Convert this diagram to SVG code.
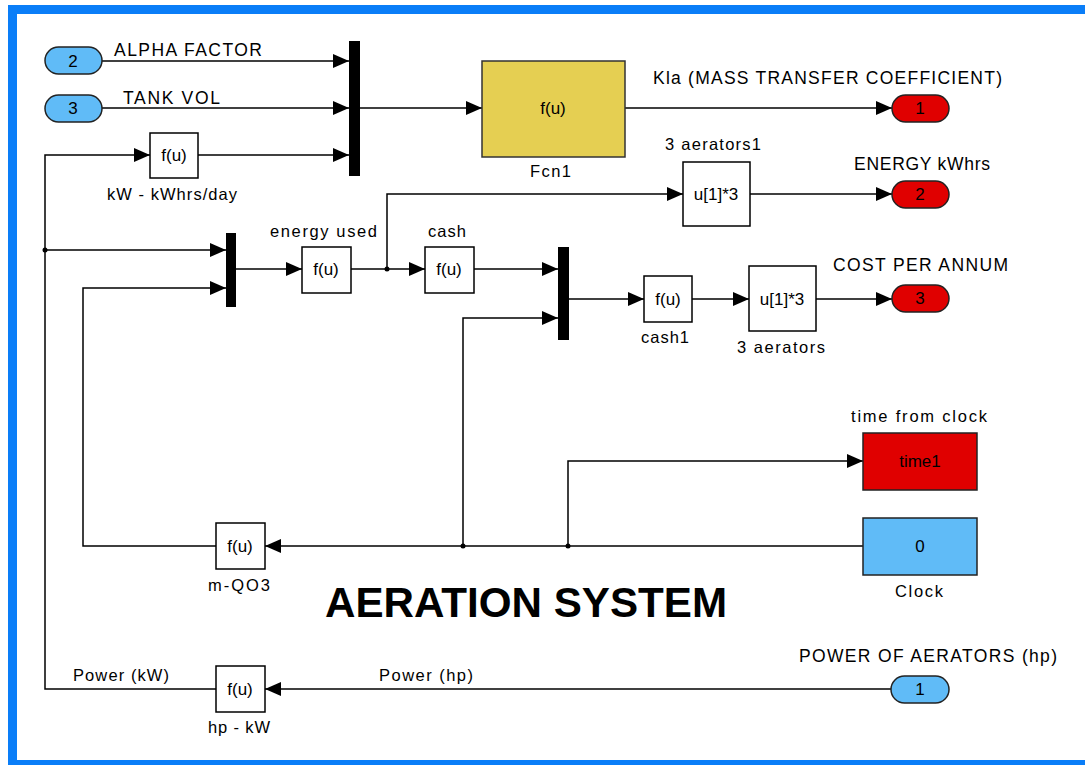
<svg xmlns="http://www.w3.org/2000/svg" width="1085" height="765" viewBox="0 0 1085 765">
<defs>
<marker id="arr" markerUnits="userSpaceOnUse" markerWidth="16" markerHeight="14" refX="16" refY="7" orient="auto">
<path d="M0,0 L16,7 L0,14 z" fill="#000"/>
</marker>
<style>
text{font-family:"Liberation Sans",Arial,sans-serif;fill:#000}
.lbl{font-size:17.5px}
.sm{font-size:16.5px}
.fu{font-size:17px;text-anchor:middle}
.in{font-size:17px;text-anchor:middle}
.blk{fill:#fff;stroke:#000;stroke-width:1.5}
.mux{fill:#000}
.inport{fill:#60bbf7;stroke:#222;stroke-width:1.5}
.outport{fill:#e00000;stroke:#222;stroke-width:1.5}
.wire{fill:none;stroke:#000;stroke-width:1.5}
.arrw{marker-end:url(#arr)}
</style>
</defs>
<rect x="0" y="0" width="1085" height="765" fill="#fff"/>
<g id="frame">
<rect x="8" y="5" width="1077" height="9" fill="#0a7ef8"/>
<rect x="8" y="5" width="9" height="760" fill="#0a7ef8"/>
<rect x="8" y="760" width="1077" height="5" fill="#0a7ef8"/>
</g>
<g id="connectors">
<path class="wire arrw" d="M102,61 H349"/>
<path class="wire arrw" d="M102,108 H349"/>
<path class="wire arrw" d="M198,155 H349"/>
<path class="wire arrw" d="M360,108 H482"/>
<path class="wire arrw" d="M625,108 H892"/>
<path class="wire arrw" d="M216,689 H45 V155 H150"/>
<path class="wire arrw" d="M45,250 H226"/>
<path class="wire arrw" d="M216,546 H83 V288 H226"/>
<path class="wire arrw" d="M236,269 H302"/>
<path class="wire arrw" d="M351,269 H425"/>
<path class="wire arrw" d="M387,269 V194 H683"/>
<path class="wire arrw" d="M750,194 H892"/>
<path class="wire arrw" d="M474,269 H558"/>
<path class="wire arrw" d="M569,299 H644"/>
<path class="wire arrw" d="M692,299 H749"/>
<path class="wire arrw" d="M816,299 H892"/>
<path class="wire arrw" d="M863,546 H265"/>
<path class="wire arrw" d="M463,546 V318 H558"/>
<path class="wire arrw" d="M568,546 V461 H863"/>
<path class="wire arrw" d="M891,689 H265"/>
<circle cx="45" cy="250" r="2.5"/>
<circle cx="387" cy="269" r="2.5"/>
<circle cx="463" cy="546" r="2.5"/>
<circle cx="568" cy="546" r="2.5"/>
<text class="lbl" x="114" y="56" textLength="148" lengthAdjust="spacing">ALPHA FACTOR</text>
<text class="lbl" x="123" y="104" textLength="97" lengthAdjust="spacing">TANK VOL</text>
<text class="lbl" x="653" y="84" textLength="349" lengthAdjust="spacing">Kla (MASS TRANSFER COEFFICIENT)</text>
<text class="lbl" x="854" y="170" textLength="136" lengthAdjust="spacing">ENERGY kWhrs</text>
<text class="lbl" x="833" y="271" textLength="175" lengthAdjust="spacing">COST PER ANNUM</text>
<text class="sm" x="73" y="681" textLength="96" lengthAdjust="spacing">Power (kW)</text>
<text class="sm" x="379" y="681" textLength="94" lengthAdjust="spacing">Power (hp)</text>
</g>
<g id="in2">
<rect class="inport" x="45" y="47" width="57" height="27" rx="13.5"/>
<text class="in" x="73" y="67">2</text>
</g>
<g id="in3">
<rect class="inport" x="45" y="95" width="57" height="27" rx="13.5"/>
<text class="in" x="73" y="114">3</text>
</g>
<g id="kw_kwhrs">
<rect class="blk" x="150" y="133" width="48" height="45"/>
<text class="fu" x="174" y="161">f(u)</text>
<text class="sm" x="107" y="200" textLength="130" lengthAdjust="spacing">kW - kWhrs/day</text>
</g>
<g id="mux1">
<rect class="mux" x="349" y="41" width="11" height="135"/>
</g>
<g id="fcn1">
<rect x="482" y="61" width="143" height="96" fill="#e5cf52" stroke="#333" stroke-width="1.5"/>
<text class="fu" x="553" y="114">f(u)</text>
<text class="sm" x="530" y="177" textLength="41" lengthAdjust="spacing">Fcn1</text>
</g>
<g id="out1">
<rect class="outport" x="892" y="95" width="57" height="27" rx="13.5"/>
<text class="in" x="920" y="114">1</text>
</g>
<g id="aerators1">
<rect class="blk" x="683" y="162" width="67" height="64"/>
<text class="fu" x="716" y="200">u[1]*3</text>
<text class="sm" x="665" y="150" textLength="96" lengthAdjust="spacing">3 aerators1</text>
</g>
<g id="out2">
<rect class="outport" x="892" y="181" width="57" height="27" rx="13.5"/>
<text class="in" x="920" y="200">2</text>
</g>
<g id="mux2">
<rect class="mux" x="226" y="233" width="10" height="74"/>
</g>
<g id="energy_used">
<rect class="blk" x="302" y="247" width="49" height="46"/>
<text class="fu" x="326" y="275">f(u)</text>
<text class="sm" x="270" y="237" textLength="107" lengthAdjust="spacing">energy used</text>
</g>
<g id="cash">
<rect class="blk" x="425" y="247" width="49" height="46"/>
<text class="fu" x="449" y="275">f(u)</text>
<text class="sm" x="428" y="237" textLength="38" lengthAdjust="spacing">cash</text>
</g>
<g id="mux3">
<rect class="mux" x="558" y="247" width="11" height="93"/>
</g>
<g id="cash1">
<rect class="blk" x="644" y="276" width="48" height="46"/>
<text class="fu" x="668" y="305">f(u)</text>
<text class="sm" x="641" y="343" textLength="48" lengthAdjust="spacing">cash1</text>
</g>
<g id="aerators">
<rect class="blk" x="749" y="266" width="67" height="65"/>
<text class="fu" x="782" y="305">u[1]*3</text>
<text class="sm" x="737" y="353" textLength="88" lengthAdjust="spacing">3 aerators</text>
</g>
<g id="out3">
<rect class="outport" x="892" y="285" width="57" height="27" rx="13.5"/>
<text class="in" x="920" y="304">3</text>
</g>
<g id="time1">
<rect x="863" y="433" width="114" height="57" fill="#e00000" stroke="#222" stroke-width="1.5"/>
<text class="fu" x="920" y="467">time1</text>
<text class="sm" x="851" y="422" textLength="136" lengthAdjust="spacing">time from clock</text>
</g>
<g id="clock">
<rect x="863" y="518" width="114" height="57" fill="#60bbf7" stroke="#222" stroke-width="1.5"/>
<text class="fu" x="920" y="552">0</text>
<text class="sm" x="895" y="597" textLength="48" lengthAdjust="spacing">Clock</text>
</g>
<g id="m_qo3">
<rect class="blk" x="216" y="523" width="49" height="46"/>
<text class="fu" x="240" y="552">f(u)</text>
<text class="sm" x="208" y="591" textLength="62" lengthAdjust="spacing">m-QO3</text>
</g>
<g id="hp_kw">
<rect class="blk" x="216" y="666" width="49" height="46"/>
<text class="fu" x="240" y="695">f(u)</text>
<text class="sm" x="208" y="733" textLength="62" lengthAdjust="spacing">hp - kW</text>
</g>
<g id="in1">
<rect class="inport" x="891" y="676" width="58" height="27" rx="13.5"/>
<text class="in" x="920" y="695">1</text>
<text class="lbl" x="799" y="662" textLength="258" lengthAdjust="spacing">POWER OF AERATORS (hp)</text>
</g>
<g id="title">
<text x="325" y="617" font-size="42" font-weight="bold" textLength="402" lengthAdjust="spacingAndGlyphs">AERATION SYSTEM</text>
</g>
</svg>
